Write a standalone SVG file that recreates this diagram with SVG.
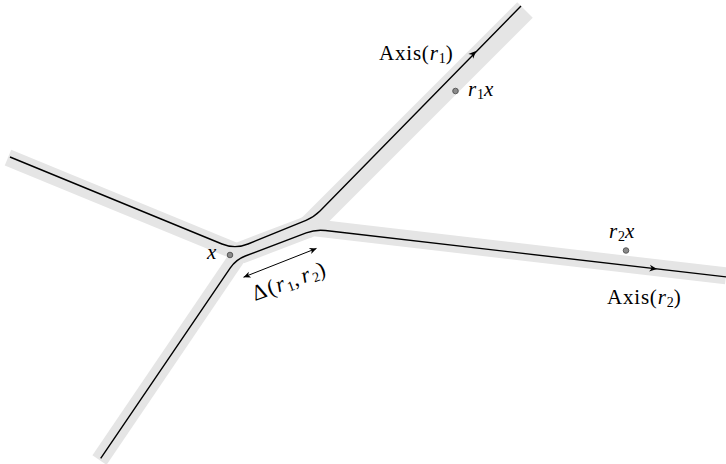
<svg xmlns="http://www.w3.org/2000/svg" width="726" height="464" viewBox="0 0 726 464">
<style>
.band{fill:none;stroke:#e5e5e5;stroke-linecap:butt}
.curve{fill:none;stroke:#000;stroke-width:1.4}
.lbl{font-family:"Liberation Serif","Times New Roman",serif;font-size:21px;letter-spacing:0.8px;fill:#000}
.it{font-style:italic}
.sub{font-size:14px;letter-spacing:0}
.pt{fill:#8a8a8a;stroke:#444;stroke-width:0.8}
</style>
<defs>
<marker id="ah" viewBox="-8 -4 10 8" refX="0" refY="0" markerWidth="10" markerHeight="8" markerUnits="userSpaceOnUse" orient="auto-start-reverse">
<path d="M0,0 L-7,-3.2 L-5,0 L-7,3.2 Z" fill="#000"/>
</marker>
<path id="head" d="M0,0 L-7.5,-3.4 L-5.3,0 L-7.5,3.4 Z" fill="#000"/>
</defs>
<g id="bands">
<path class="band" stroke-width="17" d="M8,157.7 L240,253"/>
<path class="band" stroke-width="17" d="M99.5,460.1 L240,253"/>
<path class="band" stroke-width="22" d="M240,253 L308,227"/>
<path class="band" stroke-width="22" d="M308,227 L525,10"/>
<path class="band" stroke-width="17" d="M308,227 L726,275.9"/>
<circle cx="240" cy="253" r="10" fill="#e5e5e5"/>
<circle cx="308" cy="227" r="11" fill="#e5e5e5"/>
</g>
<g id="connectors">
<path id="axis1" class="curve" d="M10,157 L222,244 Q235,249.3 248,244 L306,220.3 Q314,217 320,211 L521,6"/>
<path id="axis2" class="curve" d="M100.7,458.3 L230.3,267.9 Q235.9,259.6 245.3,256 L306.2,232.9 Q315.5,229.3 325.4,230.5 L726,276.9"/>
<use href="#head" transform="translate(476,51) rotate(-45.6)"/>
<use href="#head" transform="translate(657,268.9) rotate(6.6)"/>
<path id="delta" fill="none" stroke="#000" stroke-width="1" d="M243.5,277.2 L316.5,248.4" marker-start="url(#ah)" marker-end="url(#ah)"/>
</g>
<g id="node-x">
<circle class="pt" cx="230" cy="255" r="2.8"/>
<text class="lbl it" x="207" y="259">x</text>
</g>
<g id="node-r1x">
<circle class="pt" cx="455.5" cy="91" r="2.8"/>
<text class="lbl" x="468" y="96"><tspan class="it">r</tspan><tspan class="sub" dy="3">1</tspan><tspan class="it" dy="-3">x</tspan></text>
</g>
<g id="node-r2x">
<circle class="pt" cx="626" cy="250.5" r="2.8"/>
<text class="lbl" x="609" y="238"><tspan class="it">r</tspan><tspan class="sub" dy="3">2</tspan><tspan class="it" dy="-3">x</tspan></text>
</g>
<g id="label-axis1">
<text class="lbl" x="379" y="60">Axis(<tspan class="it">r</tspan><tspan class="sub" dy="3">1</tspan><tspan dy="-3">)</tspan></text>
</g>
<g id="label-axis2">
<text class="lbl" x="607" y="304">Axis(<tspan class="it">r</tspan><tspan class="sub" dy="3">2</tspan><tspan dy="-3">)</tspan></text>
</g>
<g id="label-delta">
<text class="lbl" style="font-size:22px;letter-spacing:1.8px" transform="translate(255,301) rotate(-20)">Δ(<tspan class="it">r</tspan><tspan class="sub" dy="3">1</tspan><tspan dy="-3">,</tspan><tspan class="it" dx="2">r</tspan><tspan class="sub" dy="3">2</tspan><tspan dy="-3">)</tspan></text>
</g>
</svg>
